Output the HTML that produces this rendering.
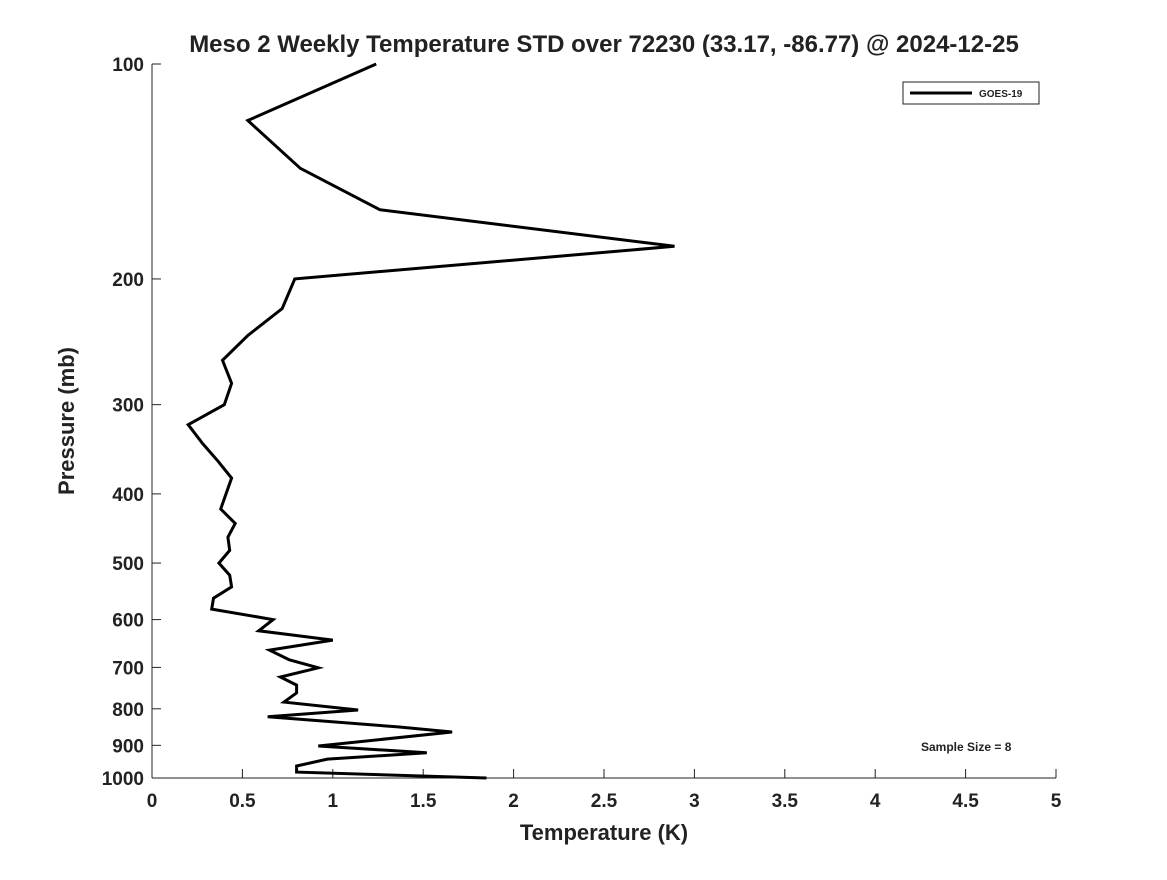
<!DOCTYPE html>
<html><head><meta charset="utf-8"><style>
body{margin:0;background:#fff;}
svg text{font-family:"Liberation Sans","DejaVu Sans",sans-serif;font-weight:bold;fill:#222;}
</style></head><body>
<svg width="1167" height="875" viewBox="0 0 1167 875">
<text x="604" y="52" text-anchor="middle" font-size="24">Meso 2 Weekly Temperature STD over 72230 (33.17, -86.77) @ 2024-12-25</text>
<g id="axes"></g>
<g id="series"></g>
<g>
<rect x="903" y="82" width="136" height="22" fill="#fff" stroke="#222" stroke-width="1"/>
<line x1="910" y1="93" x2="972" y2="93" stroke="#000" stroke-width="3"/>
<text x="979" y="97" font-size="10">GOES-19</text>
</g>
<text x="921" y="751" font-size="12">Sample Size = 8</text>
<text x="604" y="840" text-anchor="middle" font-size="22">Temperature (K)</text>
<text transform="translate(74,421) rotate(-90)" text-anchor="middle" font-size="22">Pressure (mb)</text>
</svg>
<script>
const xTicks=[0,0.5,1,1.5,2,2.5,3,3.5,4,4.5,5];
const xTickLabels=["0","0.5","1","1.5","2","2.5","3","3.5","4","4.5","5"];
const yTicks=[100,200,300,400,500,600,700,800,900,1000];
const yTickLabels=["100","200","300","400","500","600","700","800","900","1000"];
const pressure=[100,120,140,160,180,200,220,240,260,280,300,320,340,360,380,420,440,460,480,500,520,540,560,580,600,622,641,662,683,701,722,741,760,783,803,821,848,862,902,922,941,962,981,1000];
const tempStd=[1.24,0.53,0.82,1.26,2.89,0.79,0.72,0.53,0.39,0.44,0.40,0.20,0.28,0.365,0.44,0.38,0.46,0.42,0.43,0.37,0.43,0.44,0.34,0.33,0.67,0.59,1.00,0.65,0.76,0.92,0.71,0.80,0.80,0.73,1.14,0.64,1.36,1.66,0.92,1.52,0.97,0.80,0.80,1.85];
const NS="http://www.w3.org/2000/svg";
const X0=152,X1=1056,Y0=64,Y1=778;
function xs(v){return X0+(v-0)/(5-0)*(X1-X0);}
function ys(p){return Y0+(Math.log10(p)-2)/(3-2)*(Y1-Y0);}
function mk(tag,attrs,parent){const e=document.createElementNS(NS,tag);for(const k in attrs)e.setAttribute(k,attrs[k]);parent.appendChild(e);return e;}
const axes=document.getElementById('axes');
const xl=mk('line',{x1:X0,y1:Y1,x2:X1,y2:Y1,stroke:'#222','stroke-width':1},axes);


const yl=mk('line',{x1:X0,y1:Y0,x2:X0,y2:Y1,stroke:'#222','stroke-width':1},axes);


xTicks.forEach((v,i)=>{
 const x=xs(v);
 const t=mk('line',{x1:x,y1:Y1,x2:x,y2:Y1-9,stroke:'#222','stroke-width':1},axes);
 
 
 const tx=mk('text',{x:x,y:807,'text-anchor':'middle','font-size':19},axes);
 tx.textContent=xTickLabels[i];
 
 
});
yTicks.forEach((v,i)=>{
 const y=ys(v);
 const t=mk('line',{x1:X0,y1:y,x2:X0+9,y2:y,stroke:'#222','stroke-width':1},axes);
 
 
 const tx=mk('text',{x:144,y:y+7,'text-anchor':'end','font-size':19},axes);
 tx.textContent=yTickLabels[i];
 
 
});
const pts=pressure.map((p,i)=>xs(tempStd[i]).toFixed(1)+','+ys(p).toFixed(1)).join(' ');
const pl=mk('polyline',{points:pts,fill:'none',stroke:'#000','stroke-width':3,'stroke-linejoin':'miter'},document.getElementById('series'));


</script>
</body></html>
